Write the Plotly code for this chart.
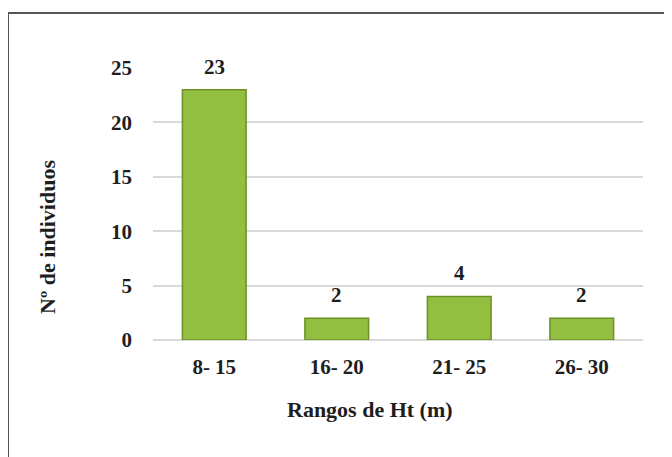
import plotly.graph_objects as go

categories = ["8- 15", "16- 20", "21- 25", "26- 30"]
values = [23, 2, 4, 2]
y_ticks = [0, 5, 10, 15, 20, 25]

FONT = "Liberation Serif, Times New Roman, serif"
TXT = "#1e1e1e"
FS = 21

# page body has an 8px offset; figure coords = page coords - 8
W, H = 664, 449
L, R, T, B = 145, 29, 60, 117
PW, PH = W - L - R, H - T - B


def px(x):
    return (x - 8 - L) / PW


def py(y):
    return (H - B - (y - 8)) / PH


fig = go.Figure()
fig.add_trace(go.Bar(
    x=categories, y=values,
    marker=dict(color="#92bf3f", line=dict(color="#6f8f28", width=1.5)),
    hoverinfo="x+y",
))

annotations = [
    dict(x=c, y=v, xref="x", yref="y", text=f"<b>{v}</b>", showarrow=False,
         xanchor="center", yanchor="middle", yshift=23,
         font=dict(family=FONT, size=FS, color=TXT))
    for c, v in zip(categories, values)
]
annotations += [
    dict(text="<b>Rangos de Ht (m)</b>", xref="paper", yref="paper",
         x=px(370), y=py(409), xanchor="center", yanchor="middle", showarrow=False,
         font=dict(family=FONT, size=22, color=TXT)),
    dict(text="<b>Nº de individuos</b>", xref="paper", yref="paper",
         x=px(47), y=py(237), xanchor="center", yanchor="middle", showarrow=False,
         textangle=-90, font=dict(family=FONT, size=22, color=TXT)),
]

fig.update_layout(
    width=W, height=H,
    margin=dict(l=L, r=R, t=T, b=B, autoexpand=False),
    paper_bgcolor="white", plot_bgcolor="white",
    bargap=0.48,
    showlegend=False,
    font=dict(family=FONT, size=FS, color=TXT),
    xaxis=dict(showgrid=False, showline=False, ticks="", tickangle=0,
               tickfont=dict(family=FONT, size=FS, color=TXT, weight="bold"),
               ticklabelstandoff=12),
    yaxis=dict(range=[0, 25], tickvals=y_ticks, showgrid=True, gridcolor="#d9d9d9", gridwidth=2,
               zeroline=True, zerolinecolor="#d9d9d9", zerolinewidth=2,
               ticks="", ticklabelstandoff=20,
               tickfont=dict(family=FONT, size=FS, color=TXT, weight="bold")),
    shapes=[dict(type="rect", xref="paper", yref="paper",
                 x0=px(8), x1=px(700), y0=py(480), y1=py(13),
                 line=dict(color="#555555", width=2), fillcolor="rgba(0,0,0,0)", layer="below")],
    annotations=annotations,
)

fig.write_html("out.html")
